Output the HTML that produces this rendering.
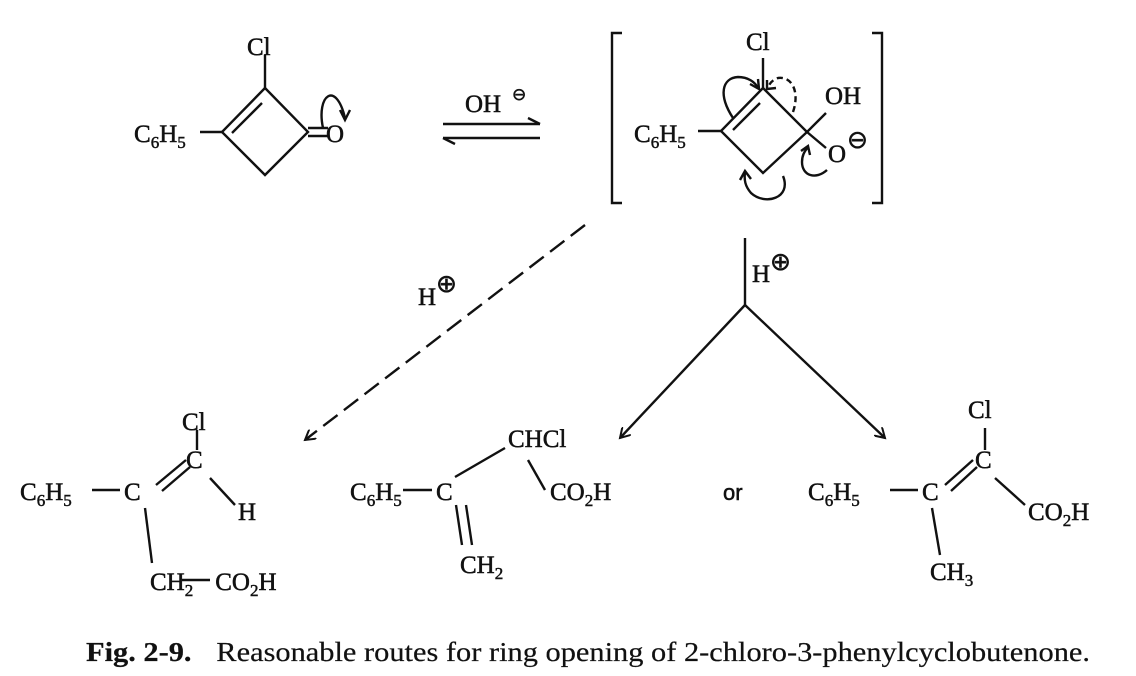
<!DOCTYPE html>
<html><head><style>
html,body{margin:0;padding:0;background:#fff;}
svg{display:block;}
text{font-family:"Liberation Serif",serif;font-size:25px;fill:#111;stroke:#111;stroke-width:0.5;}
.s{font-size:17px;}
</style></head><body>
<svg width="1136" height="676" viewBox="0 0 1136 676" xmlns="http://www.w3.org/2000/svg">
<defs><marker id="ah" markerWidth="12" markerHeight="12" refX="10" refY="6" orient="auto" markerUnits="userSpaceOnUse"><path d="M0,0 L10,6 L0,12" fill="none" stroke="#111" stroke-width="2"/></marker></defs>
<g stroke="#111" stroke-width="2.4" fill="none">
<line x1="265" y1="55" x2="265" y2="88"/>
<polyline points="265,88 308,132 265,175 222,132 265,88"/>
<line x1="262" y1="103" x2="232" y2="133"/>
<line x1="200" y1="132" x2="222" y2="132"/>
<line x1="308" y1="128" x2="328" y2="128"/><line x1="308" y1="136" x2="328" y2="136"/>
<path d="M323,128 C316,95 336,80 345,118" /><path d="M340,110 L345,120 L350,110"/>
<line x1="443" y1="124" x2="540" y2="124"/><path d="M528,118 L540,124"/>
<line x1="443" y1="138" x2="540" y2="138"/><path d="M455,144 L443,138"/>
<polyline points="622,33 612,33 612,203 622,203"/>
<polyline points="872,33 882,33 882,203 872,203"/>
<line x1="763" y1="58" x2="763" y2="88"/>
<polyline points="763,88 807,132 763,173 721,131 763,88"/>
<line x1="760" y1="103" x2="733" y2="130"/>
<line x1="698" y1="131" x2="721" y2="131"/>
<line x1="807" y1="132" x2="826" y2="113"/>
<line x1="807" y1="132" x2="826" y2="148"/>
<path d="M733,118 C718,95 722,78 738,77 C748,77 755,82 758,88"/><path d="M750,84 L759,89 L758,79"/>
<path d="M793,112 C800,92 792,76 778,78 C772,80 769,84 768,88" stroke-dasharray="6,4"/><path d="M767,80 L767,89 L776,88"/>
<path d="M783,176 C792,198 765,206 751,193 C745,186 744,180 745,172"/><path d="M740,180 L745,171 L751,179"/>
<path d="M827,170 C816,180 802,176 802,162 C802,156 804,152 808,147"/><path d="M801,151 L808,146 L810,155"/>
<line x1="585" y1="225" x2="305" y2="440" stroke-dasharray="18,8" marker-end="url(#ah)"/>
<line x1="745" y1="238" x2="745" y2="305"/>
<line x1="745" y1="305" x2="620" y2="438" marker-end="url(#ah)"/>
<line x1="745" y1="305" x2="885" y2="438" marker-end="url(#ah)"/>
<line x1="197" y1="430" x2="197" y2="450"/>
<line x1="156" y1="485" x2="186" y2="460"/><line x1="162" y1="491" x2="190" y2="467"/>
<line x1="210" y1="478" x2="235" y2="505"/>
<line x1="92" y1="490" x2="120" y2="490"/>
<line x1="145" y1="508" x2="152" y2="563"/>
<line x1="182" y1="580" x2="210" y2="580"/>
<line x1="403" y1="490" x2="432" y2="490"/>
<line x1="455" y1="477" x2="505" y2="448"/>
<line x1="528" y1="460" x2="545" y2="490"/>
<line x1="456" y1="505" x2="462" y2="545"/><line x1="466" y1="505" x2="472" y2="545"/>
<line x1="985" y1="428" x2="985" y2="450"/>
<line x1="945" y1="485" x2="973" y2="460"/><line x1="951" y1="491" x2="977" y2="467"/>
<line x1="995" y1="478" x2="1025" y2="505"/>
<line x1="890" y1="490" x2="918" y2="490"/>
<line x1="932" y1="508" x2="940" y2="555"/>
</g>
<text x="247" y="55">Cl</text>
<text x="134" y="142">C<tspan class="s" dy="6">6</tspan><tspan dy="-6">H</tspan><tspan class="s" dy="6">5</tspan></text>
<text x="326" y="142">O</text>
<text x="465" y="112">OH</text><text x="512" y="100" class="s">⊖</text>
<text x="746" y="50">Cl</text>
<text x="825" y="104">OH</text>
<text x="634" y="142">C<tspan class="s" dy="6">6</tspan><tspan dy="-6">H</tspan><tspan class="s" dy="6">5</tspan></text>
<text x="828" y="162">O</text><text x="847" y="148" font-size="22">⊖</text>
<text x="418" y="305">H</text><text x="436" y="292" font-size="22">⊕</text>
<text x="752" y="282">H</text><text x="770" y="270" font-size="22">⊕</text>
<text x="182" y="430">Cl</text>
<text x="186" y="468">C</text>
<text x="238" y="520">H</text>
<text x="20" y="500">C<tspan class="s" dy="6">6</tspan><tspan dy="-6">H</tspan><tspan class="s" dy="6">5</tspan></text>
<text x="124" y="500">C</text>
<text x="150" y="590">CH<tspan class="s" dy="6">2</tspan><tspan dy="-6" dx="22">CO</tspan><tspan class="s" dy="6">2</tspan><tspan dy="-6">H</tspan></text>
<text x="350" y="500">C<tspan class="s" dy="6">6</tspan><tspan dy="-6">H</tspan><tspan class="s" dy="6">5</tspan></text>
<text x="436" y="500">C</text>
<text x="508" y="447">CHCl</text>
<text x="550" y="500">CO<tspan class="s" dy="6">2</tspan><tspan dy="-6">H</tspan></text>
<text x="460" y="573">CH<tspan class="s" dy="6">2</tspan></text>
<text x="723" y="500" style="font-family:'Liberation Sans',sans-serif;font-size:22px">or</text>
<text x="968" y="418">Cl</text>
<text x="975" y="468">C</text>
<text x="808" y="500">C<tspan class="s" dy="6">6</tspan><tspan dy="-6">H</tspan><tspan class="s" dy="6">5</tspan></text>
<text x="922" y="500">C</text>
<text x="1028" y="520">CO<tspan class="s" dy="6">2</tspan><tspan dy="-6">H</tspan></text>
<text x="930" y="580">CH<tspan class="s" dy="6">3</tspan></text>
<text x="86" y="661" textLength="1004" lengthAdjust="spacingAndGlyphs" style="font-size:27px;stroke-width:0.2"><tspan font-weight="bold">Fig. 2-9.</tspan><tspan dx="22">Reasonable routes for ring opening of 2-chloro-3-phenylcyclobutenone.</tspan></text>
</svg>
</body></html>
